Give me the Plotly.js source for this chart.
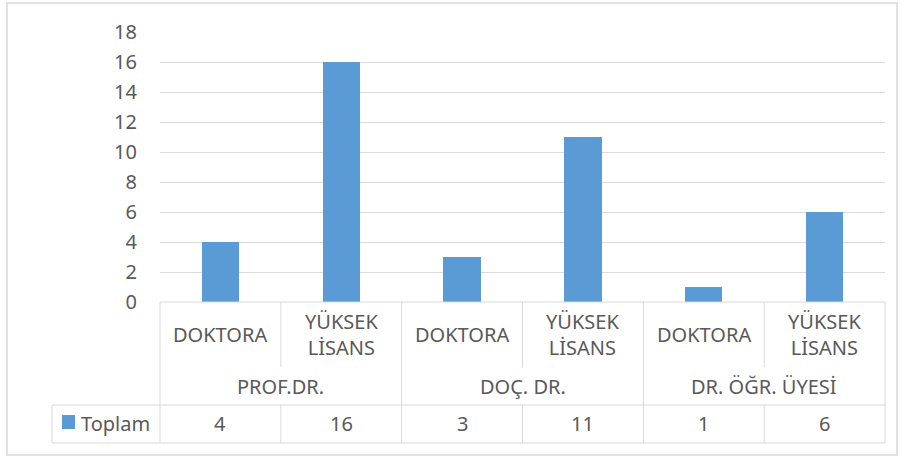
<!DOCTYPE html>
<html>
<head>
<meta charset="utf-8">
<script src="https://cdn.plot.ly/plotly-3.0.1.min.js"></script>
<style>html,body{margin:0;padding:0;background:#fff;}#chart{width:904px;height:457px;}</style>
</head>
<body>
<div id="chart"></div>
<script>
const groups = ['PROF.DR.', 'DOÇ. DR.', 'DR. ÖĞR. ÜYESİ'];
const subCategories = ['DOKTORA', 'YÜKSEK<br>LİSANS'];
const seriesName = 'Toplam';
const values = [4, 16, 3, 11, 1, 6];
const yTicks = [0, 2, 4, 6, 8, 10, 12, 14, 16, 18];

const W = 904, H = 457;
const L = 160, R = 885, T = 32, B = 302;
const px = x => (x - L) / (R - L);
const py = y => (B - y) / (B - T);
const grey = '#d9d9d9';
const txt = '#595959';
const FONT = 'Noto Sans, sans-serif';
const FS = 20;

const xIdx = values.map((_, i) => i);
const nCols = values.length;
const nSub = subCategories.length;

const shapes = [];
function line(x0, y0, x1, y1) {
  shapes.push({type: 'line', xref: 'paper', yref: 'paper', x0: px(x0), y0: py(y0), x1: px(x1), y1: py(y1),
    line: {color: grey, width: 1}, layer: 'above'});
}
// outer border
shapes.push({type: 'rect', xref: 'paper', yref: 'paper', x0: px(7), y0: py(3), x1: px(897), y1: py(455),
  line: {color: grey, width: 1.5}, layer: 'below'});
const rowTop = 302, row2 = 368, row3 = 405, rowBot = 443, legL = 52;
line(L, rowTop, R, rowTop);
line(legL, row3, R, row3);
line(legL, rowBot, R, rowBot);
line(legL, row3, legL, rowBot);
for (let k = 0; k <= nCols; k++) {
  const xp = L + (R - L) * k / nCols;
  if (k % nSub === 0) {
    line(xp, rowTop, xp, rowBot);
  } else {
    line(xp, rowTop, xp, row2 - 1);
    line(xp, row3, xp, rowBot);
  }
}
// legend key
shapes.push({type: 'rect', xref: 'paper', yref: 'paper', x0: px(62), y0: py(415), x1: px(75), y1: py(429),
  fillcolor: '#5b9bd5', line: {width: 0}, layer: 'above'});

const annotations = [];
function ann(x, xref, yPix, text) {
  annotations.push({x: x, xref: xref, y: py(yPix), yref: 'paper', text: text, showarrow: false,
    font: {family: FONT, size: FS, color: txt}, xanchor: 'center', yanchor: 'middle'});
}
xIdx.forEach(i => {
  ann(i, 'x', 334, subCategories[i % nSub]);
  ann(i, 'x', 423, String(values[i]));
});
groups.forEach((g, gi) => {
  ann(gi * nSub + (nSub - 1) / 2, 'x', 386, g);
});
annotations.push({x: px(79), xref: 'paper', y: py(423), yref: 'paper', text: seriesName, showarrow: false,
  font: {family: FONT, size: FS, color: txt}, xanchor: 'left', yanchor: 'middle'});

const data = [{
  type: 'bar', x: xIdx, y: values, name: seriesName,
  marker: {color: '#5b9bd5'}, width: 0.31, hoverinfo: 'none'
}];

const layout = {
  width: W, height: H,
  margin: {l: L, r: W - R, t: T, b: H - B},
  paper_bgcolor: '#fff', plot_bgcolor: '#fff',
  showlegend: false,
  font: {family: FONT, color: txt, size: FS},
  xaxis: {range: [-0.5, nCols - 0.5], showticklabels: false, showgrid: false, zeroline: false, showline: false, ticks: '', fixedrange: true},
  yaxis: {range: [0, 18], tickvals: yTicks, ticktext: yTicks.map(String), showgrid: true, gridcolor: grey, gridwidth: 1,
    zeroline: false, showline: false, ticks: '', ticklabelstandoff: 22, tickfont: {family: FONT, size: FS, color: txt}, fixedrange: true},
  shapes: shapes,
  annotations: annotations,
  bargap: 0
};
Plotly.newPlot('chart', data, layout, {displayModeBar: false, staticPlot: true});
</script>
</body>
</html>
